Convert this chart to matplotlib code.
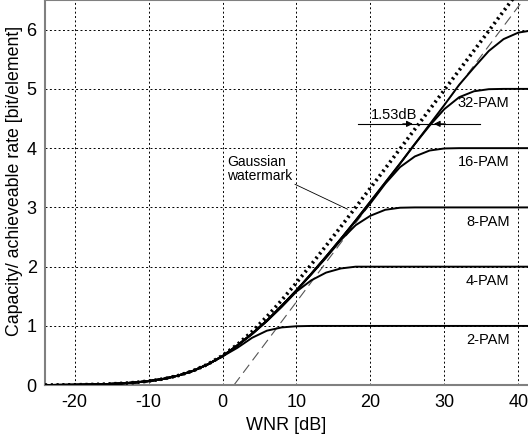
import matplotlib
matplotlib.use("Agg")
import matplotlib.pyplot as plt

plt.rcParams['font.family'] = ['Liberation Sans', 'DejaVu Sans']
plt.rcParams['axes.unicode_minus'] = False

# WNR grid [dB]
wnr = [-24, -22, -20, -18, -16, -14, -12, -10, -8, -6, -4, -2, 0, 2, 4, 6, 8,
       10, 12, 14, 16, 18, 20, 22, 24, 26, 28, 30, 32, 34, 36, 38, 40, 42]

# Gaussian watermark capacity (dotted)
gauss = [0.003, 0.005, 0.007, 0.011, 0.018, 0.028, 0.044, 0.069, 0.106, 0.162,
         0.242, 0.353, 0.500, 0.685, 0.906, 1.158, 1.435, 1.730, 2.037, 2.353,
         2.675, 3.001, 3.329, 3.658, 3.989, 4.320, 4.652, 4.983, 5.315, 5.647,
         5.979, 6.312, 6.644, 6.976]

# asymptote shifted by 1.53 dB (thin dashed)
asym_x = [1.53, 41.5]
asym_y = [0.0, 6.64]

low = [0.003, 0.005, 0.007, 0.011, 0.018, 0.028, 0.044, 0.069, 0.106, 0.162,
       0.241, 0.351]

pam2 = low + [0.486, 0.63, 0.80, 0.92, 0.975, 0.995, 1.0, 1.0, 1.0, 1.0, 1.0,
              1.0, 1.0, 1.0, 1.0, 1.0, 1.0, 1.0, 1.0, 1.0, 1.0, 1.0]
pam4 = low + [0.49, 0.67, 0.86, 1.08, 1.32, 1.58, 1.77, 1.90, 1.97, 2.0, 2.0,
              2.0, 2.0, 2.0, 2.0, 2.0, 2.0, 2.0, 2.0, 2.0, 2.0, 2.0]
pam8 = low + [0.49, 0.67, 0.87, 1.09, 1.34, 1.60, 1.87, 2.15, 2.45, 2.70, 2.86,
              2.96, 2.995, 3.0, 3.0, 3.0, 3.0, 3.0, 3.0, 3.0, 3.0, 3.0]
pam16 = low + [0.49, 0.67, 0.87, 1.09, 1.34, 1.60, 1.88, 2.17, 2.47, 2.77, 3.07,
               3.40, 3.68, 3.86, 3.96, 3.995, 4.0, 4.0, 4.0, 4.0, 4.0, 4.0]
pam32 = low + [0.49, 0.67, 0.87, 1.09, 1.34, 1.60, 1.88, 2.17, 2.47, 2.78, 3.10,
               3.42, 3.74, 4.07, 4.38, 4.66, 4.86, 4.96, 4.995, 5.0, 5.0, 5.0]
pam64 = low + [0.49, 0.67, 0.87, 1.09, 1.34, 1.60, 1.88, 2.17, 2.47, 2.78, 3.10,
               3.42, 3.74, 4.07, 4.40, 4.73, 5.07, 5.36, 5.64, 5.84, 5.95, 5.99]

pam_curves = [pam2, pam4, pam8, pam16, pam32, pam64]
pam_labels = ['2-PAM', '4-PAM', '8-PAM', '16-PAM', '32-PAM', None]
pam_levels = [1, 2, 3, 4, 5, 6]

xticks = [-20, -10, 0, 10, 20, 30, 40]
yticks = [0, 1, 2, 3, 4, 5, 6]

fig = plt.figure(figsize=(5.28, 4.37), dpi=100)
ax = fig.add_axes([45 / 528, 51.8 / 437, 1 - 45 / 528, 1 - 51.8 / 437])

for curve in pam_curves:
    ax.plot(wnr, curve, color='black', lw=1.4, zorder=3)
ax.plot(wnr, gauss, color='black', lw=2.6, linestyle=(0, (0.6, 1.0)), zorder=4)
ax.plot(asym_x, asym_y, color='#555555', lw=0.8, linestyle=(0, (9, 5)), zorder=2)

# PAM labels
for lab, lev in zip(pam_labels, pam_levels):
    if lab:
        ax.text(38.8, lev - 0.24, lab, ha='right', va='center', fontsize=10.5)

# 1.53 dB gap annotation
gap_y = 4.41
ax.plot([18.3, 34.8], [gap_y, gap_y], color='black', lw=0.8, zorder=5)
ax.annotate('', xy=(26.1, gap_y), xytext=(24.0, gap_y),
            arrowprops=dict(arrowstyle='-|>', color='black', lw=0.8, mutation_scale=9))
ax.annotate('', xy=(28.2, gap_y), xytext=(30.5, gap_y),
            arrowprops=dict(arrowstyle='-|>', color='black', lw=0.8, mutation_scale=9))
ax.text(23.2, 4.56, '1.53dB', ha='center', va='center', fontsize=10.5)

# Gaussian watermark label
ax.text(0.6, 3.65, 'Gaussian\nwatermark', ha='left', va='center', fontsize=10,
        linespacing=1.05)
ax.plot([9.8, 16.9], [3.39, 2.97], color='black', lw=0.6, zorder=5)

ax.set_xlim(-24, 41.3)
ax.set_ylim(0, 6.5)
ax.set_xticks(xticks)
ax.set_yticks(yticks)
ax.tick_params(labelsize=13, length=0, pad=6)
ax.grid(True, color='black', linestyle=(0, (2, 2.5)), lw=0.7)
for side in ['left', 'bottom', 'top']:
    ax.spines[side].set_color('#808080')
    ax.spines[side].set_linewidth(1.5)
ax.spines['right'].set_visible(False)

ax.set_xlabel('WNR [dB]', fontsize=13, labelpad=5)
ax.set_ylabel('Capacity/ achieveable rate [bit/element]', fontsize=12.8)
ax.yaxis.set_label_coords(-0.046, 0.53)

plt.savefig('out.png', dpi=100)
